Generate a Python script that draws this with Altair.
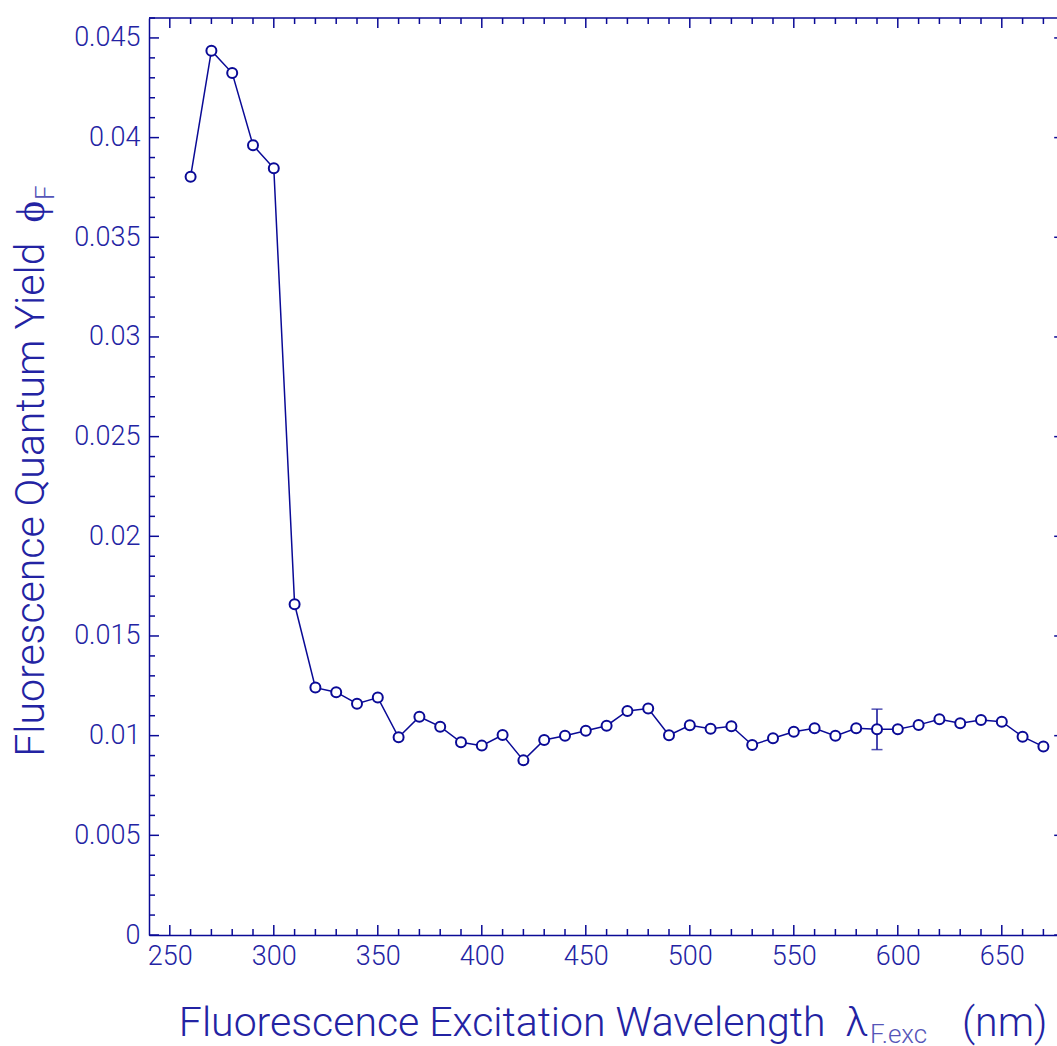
import altair as alt
import pandas as pd

# ---------------- data ----------------
wavelength = [260, 270, 280, 290, 300, 310, 320, 330, 340, 350,
              360, 370, 380, 390, 400, 410, 420, 430, 440, 450,
              460, 470, 480, 490, 500, 510, 520, 530, 540, 550,
              560, 570, 580, 590, 600, 610, 620, 630, 640, 650,
              660, 670]
quantum_yield = [0.03804, 0.04436, 0.04324, 0.03962, 0.03846, 0.01659, 0.01241, 0.01218, 0.01160, 0.01191,
                 0.00992, 0.01095, 0.01045, 0.00967, 0.00950, 0.01003, 0.00876, 0.00978, 0.01000, 0.01025,
                 0.01050, 0.01124, 0.01136, 0.01002, 0.01052, 0.01035, 0.01047, 0.00953, 0.00987, 0.01020,
                 0.01037, 0.00999, 0.01037, 0.01032, 0.01032, 0.01054, 0.01082, 0.01062, 0.01079, 0.01070,
                 0.00995, 0.00945]

err_wavelength = [590]
err_low = [0.00930]
err_high = [0.01133]

x_major = [250, 300, 350, 400, 450, 500, 550, 600, 650]
x_minor = [v for v in range(250, 680, 10) if v % 50 != 0]
y_major = [0, 0.005, 0.01, 0.015, 0.02, 0.025, 0.03, 0.035, 0.04, 0.045]
y_minor = [round(i * 0.001, 3) for i in range(1, 47) if i % 5 != 0]

NB = "\u00a0"
x_title_main = ["Fluorescence Excitation Wavelength" + NB + NB + "λ"]
x_title_sub = ["F.exc"]
x_title_unit = ["(nm)"]
y_title_main = ["Fluorescence Quantum Yield" + NB + NB + "ϕ"]
y_title_sub = ["F"]

# ---------------- style ----------------
W, H = 908, 917
PX_PER_NM = 2.08
X_DOMAIN = [240, 240 + W / PX_PER_NM]
Y_DOMAIN = [0, 0.046]
LINE = "#0a0a96"
TEXT = "#2323a3"
SUB = "#5555b8"
FONT = "Roboto"
FW = 300
MAJ, MIN = 10, 6
TS = 41

df = pd.DataFrame({"wl": wavelength, "qy": quantum_yield})
err_df = pd.DataFrame({"wl": err_wavelength, "lo": err_low, "hi": err_high})
cap_df = pd.DataFrame({"wl": err_wavelength * 2, "qy": err_low + err_high})

xs = alt.Scale(domain=X_DOMAIN, nice=False, zero=False)
ys = alt.Scale(domain=Y_DOMAIN, nice=False, zero=False)

x_axis = alt.Axis(values=x_major, format="d", title=None, ticks=False, tickSize=0,
                  labelPadding=8, labelFontSize=27, labelFont=FONT, labelFontWeight=FW,
                  labelColor=TEXT, domainColor=LINE, domainWidth=1.5, grid=False,
                  labelOverlap=False, labelFlush=False)
y_axis = alt.Axis(values=y_major, format="~g", title=None, ticks=False, tickSize=0,
                  labelPadding=9, labelFontSize=27, labelFont=FONT, labelFontWeight=FW,
                  labelColor=TEXT, domainColor=LINE, domainWidth=1.5, grid=False,
                  labelOverlap=False, labelFlush=False)


def X(field):
    return alt.X(field, scale=xs, axis=x_axis, title=None)


def Y(field):
    return alt.Y(field, scale=ys, axis=y_axis, title=None)


base = alt.Chart(df)

line = base.mark_line(color=LINE, strokeWidth=1.5).encode(x=X("wl:Q"), y=Y("qy:Q"))

err_rule = alt.Chart(err_df).mark_rule(color=LINE, strokeWidth=1.5).encode(
    x=X("wl:Q"), y=Y("lo:Q"), y2="hi:Q")
caps = alt.Chart(cap_df).mark_tick(orient="horizontal", size=11, thickness=1.5, color=LINE).encode(
    x=X("wl:Q"), y=Y("qy:Q"))

points = base.mark_point(shape="circle", filled=True, fill="white", stroke=LINE,
                         strokeWidth=2, size=100, opacity=1).encode(x=X("wl:Q"), y=Y("qy:Q"))


def xticks(vals, length):
    d = pd.DataFrame({"wl": vals})
    bottom = alt.Chart(d).mark_rule(color=LINE, strokeWidth=1.5).encode(
        x=X("wl:Q"), y=alt.value(H), y2=alt.value(H - length))
    top = alt.Chart(d).mark_rule(color=LINE, strokeWidth=1.5).encode(
        x=X("wl:Q"), y=alt.value(0), y2=alt.value(length))
    return [bottom, top]


def yticks(vals, length):
    d = pd.DataFrame({"qy": vals})
    right_edge = (680 - 240) * PX_PER_NM
    left = alt.Chart(d).mark_rule(color=LINE, strokeWidth=1.5).encode(
        y=Y("qy:Q"), x=alt.value(0), x2=alt.value(length))
    right = alt.Chart(d).mark_rule(color=LINE, strokeWidth=1.5).encode(
        y=Y("qy:Q"), x=alt.value(right_edge), x2=alt.value(right_edge - length))
    return [left, right]


top_frame = alt.Chart(pd.DataFrame({"a": [0]})).mark_rule(color=LINE, strokeWidth=1.5).encode(
    x=alt.value(0), x2=alt.value(W), y=alt.value(0))


def label(txt, x, y, size, color, align, angle=0):
    return alt.Chart(pd.DataFrame({"t": txt})).mark_text(
        font=FONT, fontWeight=FW, fontSize=size, color=color, align=align,
        baseline="alphabetic", angle=angle).encode(
        text="t:N", x=alt.value(x), y=alt.value(y))


titles = [
    label(x_title_main, 719, 1018, TS, TEXT, "right"),
    label(x_title_sub, 721, 1025, 26, SUB, "left"),
    label(x_title_unit, 813, 1018, TS, TEXT, "left"),
    label(y_title_main, -105.5, 183, TS, TEXT, "right", 270),
    label(y_title_sub, -95.5, 182, 26, SUB, "left", 270),
]

layers = [line, err_rule, caps, points, top_frame]
layers += xticks(x_major, MAJ) + xticks(x_minor, MIN)
layers += yticks(y_major, MAJ) + yticks(y_minor, MIN)
layers += titles

chart = alt.layer(*layers).properties(
    width=W, height=H,
    autosize=alt.AutoSizeParams(type="none"),
    padding={"left": 149, "top": 18, "right": 0, "bottom": 111},
    background="white",
).configure_view(stroke=None)

chart.save("out.html", embed_options={"renderer": "svg", "actions": False})
